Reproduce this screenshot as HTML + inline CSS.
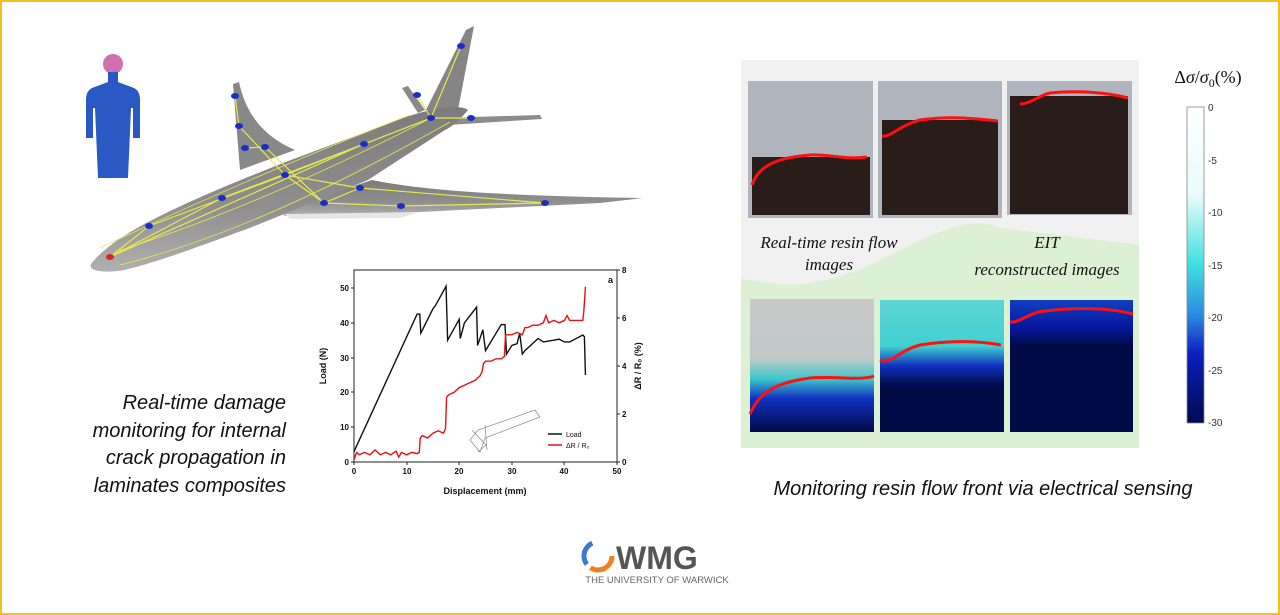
<!DOCTYPE html>
<html><head><style>
body{margin:0;background:#fff;}
svg{display:block;font-family:"Liberation Sans",sans-serif;}
</style></head><body>
<svg width="1280" height="615" viewBox="0 0 1280 615" xmlns="http://www.w3.org/2000/svg">
<defs>
<linearGradient id="cb" x1="0" y1="0" x2="0" y2="1">
<stop offset="0" stop-color="#ffffff"/><stop offset="0.28" stop-color="#e8fbfb"/><stop offset="0.5" stop-color="#3fe0e0"/><stop offset="0.66" stop-color="#2a8ae0"/><stop offset="0.78" stop-color="#0c1fc0"/><stop offset="1" stop-color="#000a50"/>
</linearGradient>
<linearGradient id="e1" x1="0" y1="0" x2="0" y2="1"><stop offset="0" stop-color="#c8c8c8"/><stop offset="0.45" stop-color="#c0c8c8"/><stop offset="0.6" stop-color="#3cc8cc"/><stop offset="0.75" stop-color="#1030c0"/><stop offset="1" stop-color="#020a48"/></linearGradient>
<linearGradient id="e2" x1="0" y1="0" x2="0" y2="1"><stop offset="0" stop-color="#60d4d4"/><stop offset="0.35" stop-color="#40d0d0"/><stop offset="0.5" stop-color="#1030c0"/><stop offset="0.65" stop-color="#020a48"/><stop offset="1" stop-color="#020a48"/></linearGradient>
<linearGradient id="e3" x1="0" y1="0" x2="0" y2="1"><stop offset="0" stop-color="#1040c0"/><stop offset="0.2" stop-color="#0818a0"/><stop offset="0.35" stop-color="#020a48"/><stop offset="1" stop-color="#020a48"/></linearGradient>
<linearGradient id="pg" x1="0" y1="0" x2="0" y2="1"><stop offset="0" stop-color="#7c7c7c"/><stop offset="0.6" stop-color="#8e8e8e"/><stop offset="1" stop-color="#b0b0b0"/></linearGradient>
</defs>
<rect x="1" y="1" width="1278" height="613" fill="#fff" stroke="#f2c21a" stroke-width="2"/>

<!-- human -->
<g fill="#2a58c4">
<circle cx="113" cy="64" r="10" fill="#d070b0"/>
<path d="M108 72 h10 v10 l16 6 q6 3 6 12 v38 h-7 v-30 h-2 l-3 70 h-30 l-3 -70 h-2 v30 h-7 v-38 q0 -9 6 -12 l16 -6z"/>
</g>
<!-- plane -->
<g>
<path d="M233 84 L239 82 C245 110 260 135 295 150 L240 170 Z" fill="#888"/>
<path d="M402 88 L408 86 L425 110 L418 113Z" fill="#8a8a8a"/>
<path d="M424 114 L466 30 L474 26 L458 110Z" fill="#858585"/>
<path d="M440 118 L540 115 L542 119 L448 125Z" fill="#8c8c8c"/>
<path d="M279 211 L372 180 C430 192 520 196 643 198 L600 203 L420 212 L285 216Z" fill="url(#pg)"/>
<path d="M285 214 L420 212 L400 218 L290 219Z" fill="#e6e6e6"/>
<path d="M91 264 C110 240 150 215 291 160 L406 117 C440 106 462 105 468 110 C460 120 450 128 445 130 L368 180 L252 227 C190 250 140 268 118 271 C100 273 88 270 91 264Z" fill="url(#pg)"/>
<g stroke="#e8e84a" stroke-width="1.2" fill="none">
<path d="M110 257 L222 198 L285 175 L431 118 L461 46 M110 257 L149 226 L285 175 L360 188 L545 203 M235 96 L239 126 L285 175 L324 203 M245 148 L265 147 L324 203 L401 206 L545 203 M364 144 L222 198 M360 188 L324 203 M431 118 L471 118 M417 95 L431 118 M110 257 L364 144 L431 118"/>
<path d="M115 252 C200 225 300 185 431 118 M120 265 C220 240 330 190 450 122 M100 248 C180 210 280 165 410 115" stroke-width="0.8"/>
</g>
<g fill="#1a2fc8">
<ellipse cx="235" cy="96" rx="4" ry="3"/><ellipse cx="239" cy="126" rx="4" ry="3"/><ellipse cx="245" cy="148" rx="4" ry="3"/><ellipse cx="265" cy="147" rx="4" ry="3"/><ellipse cx="285" cy="175" rx="4" ry="3"/><ellipse cx="222" cy="198" rx="4" ry="3"/><ellipse cx="149" cy="226" rx="4" ry="3"/><ellipse cx="364" cy="144" rx="4" ry="3"/><ellipse cx="417" cy="95" rx="4" ry="3"/><ellipse cx="461" cy="46" rx="4" ry="3"/><ellipse cx="431" cy="118" rx="4" ry="3"/><ellipse cx="471" cy="118" rx="4" ry="3"/><ellipse cx="360" cy="188" rx="4" ry="3"/><ellipse cx="324" cy="203" rx="4" ry="3"/><ellipse cx="401" cy="206" rx="4" ry="3"/><ellipse cx="545" cy="203" rx="4" ry="3"/>
</g>
<ellipse cx="110" cy="257" rx="4" ry="3" fill="#e02020"/>
</g>

<!-- left caption -->
<g font-style="italic" font-size="20" fill="#111" text-anchor="end">
<text x="286" y="409">Real-time damage</text>
<text x="286" y="437">monitoring for internal</text>
<text x="286" y="464">crack propagation in</text>
<text x="286" y="492">laminates composites</text>
</g>

<!-- chart -->
<g font-size="8" font-weight="bold" fill="#111">
<rect x="354" y="270" width="263" height="192" fill="none" stroke="#222" stroke-width="1"/>
<g stroke="#222" stroke-width="1">
<path d="M354 462v3 M407 462v3 M459 462v3 M512 462v3 M564 462v3 M617 462v3"/>
<path d="M354 462h-3 M354 427h-3 M354 392h-3 M354 358h-3 M354 323h-3 M354 288h-3"/>
<path d="M617 462h3 M617 414h3 M617 366h3 M617 318h3 M617 270h3"/>
</g>
<g text-anchor="middle"><text x="354" y="474">0</text><text x="407" y="474">10</text><text x="459" y="474">20</text><text x="512" y="474">30</text><text x="564" y="474">40</text><text x="617" y="474">50</text></g>
<g text-anchor="end"><text x="349" y="465">0</text><text x="349" y="430">10</text><text x="349" y="395">20</text><text x="349" y="361">30</text><text x="349" y="326">40</text><text x="349" y="291">50</text></g>
<g><text x="622" y="465">0</text><text x="622" y="417">2</text><text x="622" y="369">4</text><text x="622" y="321">6</text><text x="622" y="273">8</text></g>
<text x="485" y="494" text-anchor="middle" font-size="9">Displacement (mm)</text>
<text transform="translate(326,366) rotate(-90)" text-anchor="middle" font-size="9">Load (N)</text>
<text transform="translate(641,366) rotate(-90)" text-anchor="middle" font-size="9">ΔR / R₀ (%)</text>
<text x="608" y="283" font-size="9">a</text>
</g>
<g transform="translate(354,462) scale(5.26,-3.48)">
<polyline fill="none" stroke="#111" stroke-width="1.4" vector-effect="non-scaling-stroke" points="0,3 12,42.5 12.5,42.5 12.7,37 15,44 15.5,45 17.5,50.5 17.8,35 20,41 20.2,35.5 21,40 23.3,44.5 23.5,33.5 24.5,38 25,32 28,39.5 28.7,39.5 29,31 30,33.5 31,34 31.5,37 32,31 32.5,32 35,35.5 36,34.5 38,35 39,35.3 40,34.5 41,34.5 43.5,36.5 43.8,36 44,25"/>
</g>
<g transform="translate(354,462) scale(5.26,-24)">
<polyline fill="none" stroke="#e81010" stroke-width="1.4" vector-effect="non-scaling-stroke" points="0,0.1 0.5,0.4 1,0.3 2,0.4 3,0.3 4,0.5 5,0.3 6,0.4 7,0.3 8,0.45 8.5,0.2 9,0.4 10,0.3 11,0.4 12,0.35 12.4,0.4 12.6,1.0 13,1.1 14,1.0 15,1.2 16,1.3 17,1.2 17.4,1.4 17.6,2.7 18,2.8 19,2.9 20,3.1 21,3.2 22,3.3 23,3.4 24,3.6 24.4,3.8 24.6,4.1 25,4.2 26,4.2 27,4.3 28,4.3 28.6,4.4 28.8,5.3 29.5,5.3 30,5.3 31,5.4 32,5.3 32.5,5.6 33,5.6 34,5.7 35,5.7 36,5.8 36.5,6.1 37,5.8 38,5.9 39,5.8 40,5.9 40.5,6.1 41,5.9 42,5.9 43,5.9 43.5,5.9 43.7,6.3 44,7.3"/>
</g>
<g>
<path d="M470 440 L478 430 L535 410 L540 417 L485 438 L480 452 Z" fill="none" stroke="#888" stroke-width="0.7"/>
<path d="M472 430 L486 445 L478 452 M485 425 L487 450" stroke="#888" stroke-width="0.7" fill="none"/>
<line x1="548" y1="434" x2="562" y2="434" stroke="#111" stroke-width="1.5"/>
<line x1="548" y1="445" x2="562" y2="445" stroke="#e81010" stroke-width="1.5"/>
<text x="566" y="437" font-size="7" fill="#111">Load</text>
<text x="566" y="448" font-size="7" fill="#111">ΔR / R₀</text>
</g>

<!-- right panel -->
<rect x="741" y="60" width="398" height="388" fill="#f1f1f1"/>
<path d="M741 278 C790 290 830 285 880 260 C940 230 970 215 1000 228 C1060 235 1100 240 1139 245 L1139 448 L741 448Z" fill="#dcf0d4"/>
<g>
<rect x="748" y="81" width="125" height="137" fill="#b0b4bc"/>
<rect x="752" y="157" width="118" height="58" fill="#2a1c18"/>
<path d="M752 185 C760 160 790 157 810 155 C830 154 845 160 867 157" stroke="#ff1010" stroke-width="3" fill="none"/>
<rect x="878" y="81" width="124" height="137" fill="#b0b4bc"/>
<rect x="882" y="120" width="116" height="95" fill="#2a1c18"/>
<path d="M882 136 C890 138 900 125 920 120 C950 116 970 118 998 121" stroke="#ff1010" stroke-width="3" fill="none"/>
<rect x="1007" y="81" width="125" height="134" fill="#b0b4bc"/>
<rect x="1010" y="96" width="118" height="118" fill="#2a1c18"/>
<path d="M1020 104 C1030 104 1040 95 1050 93 C1080 90 1110 93 1128 98" stroke="#ff1010" stroke-width="3" fill="none"/>
</g>
<g font-family="Liberation Serif,serif" font-style="italic" font-size="17" fill="#111" text-anchor="middle">
<text x="829" y="248">Real-time resin flow</text>
<text x="829" y="270">images</text>
<text x="1047" y="248">EIT</text>
<text x="1047" y="275">reconstructed images</text>
</g>
<g>
<rect x="750" y="299" width="124" height="133" fill="url(#e1)"/>
<path d="M750 414 C760 390 780 382 810 378 C840 376 860 381 874 376" stroke="#ff1010" stroke-width="3" fill="none"/>
<rect x="880" y="300" width="124" height="132" fill="url(#e2)"/>
<path d="M880 360 C890 365 900 350 920 345 C950 340 980 341 1001 345" stroke="#ff1010" stroke-width="3" fill="none"/>
<rect x="1010" y="300" width="123" height="132" fill="url(#e3)"/>
<path d="M1010 322 C1020 323 1030 312 1045 311 C1080 307 1110 308 1133 314" stroke="#ff1010" stroke-width="3" fill="none"/>
</g>
<text x="1208" y="83" text-anchor="middle" font-family="Liberation Serif,serif" font-size="18" fill="#111">Δ<tspan font-style="italic">σ</tspan>/<tspan font-style="italic">σ</tspan><tspan font-size="12" dy="4">0</tspan><tspan dy="-4">(%)</tspan></text>
<rect x="1187" y="107" width="17" height="316" fill="url(#cb)" stroke="#888" stroke-width="0.8"/>
<g font-size="10" fill="#333">
<text x="1208" y="111">0</text><text x="1208" y="164">-5</text><text x="1208" y="216">-10</text><text x="1208" y="269">-15</text><text x="1208" y="321">-20</text><text x="1208" y="374">-25</text><text x="1208" y="426">-30</text>
</g>
<text x="983" y="495" text-anchor="middle" font-style="italic" font-size="20" fill="#111">Monitoring resin flow front via electrical sensing</text>

<g>
<circle cx="598" cy="556" r="14" fill="none" stroke="#f08020" stroke-width="5" stroke-dasharray="30 60"/>
<circle cx="598" cy="556" r="14" fill="none" stroke="#3a7ad0" stroke-width="5" stroke-dasharray="25 65" stroke-dashoffset="-35"/>
<text x="616" y="569" font-size="32" font-weight="bold" fill="#555">WMG</text>
<text x="657" y="583" text-anchor="middle" font-size="9.5" fill="#666">THE UNIVERSITY OF WARWICK</text>
</g>
</svg>
</body></html>
